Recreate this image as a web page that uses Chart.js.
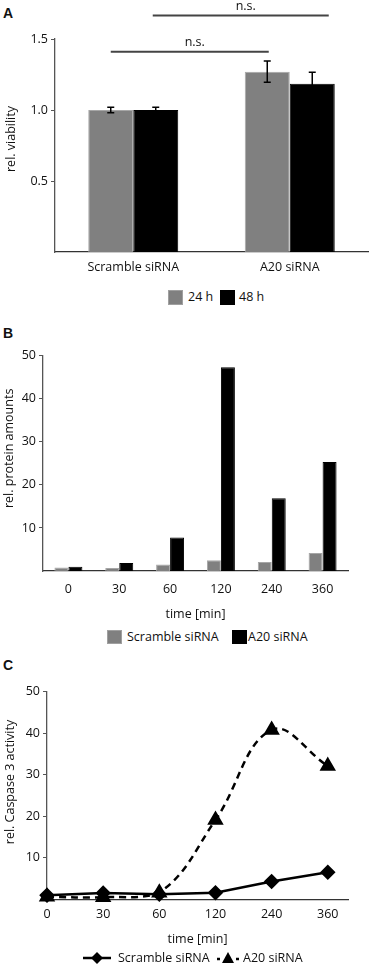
<!DOCTYPE html>
<html><head><meta charset="utf-8">
<script src="https://cdn.jsdelivr.net/npm/chart.js@4.4.1/dist/chart.umd.min.js"></script>
<style>
html,body{margin:0;padding:0;background:#fff;}
body{width:376px;height:968px;position:relative;overflow:hidden;font-family:"Open Sans","Liberation Sans",sans-serif;color:#111;}
.panel{position:absolute;left:0;width:376px;}
.lab{position:absolute;font:bold 14px "Liberation Sans",Arial,sans-serif;color:#111;}
.legend{position:absolute;font-size:12.5px;height:16px;line-height:16px;white-space:nowrap;}
.legend span{position:absolute;top:0;}
.sw{display:inline-block;box-sizing:border-box;}
</style></head><body>

<div class="lab" style="left:3px;top:5px">A</div>
<div class="panel" style="top:0;height:282px"><canvas id="cA"></canvas></div>
<div class="legend" style="left:0;top:289px;width:376px">
  <span class="sw" style="left:168px;top:1px;width:15px;height:15px;background:#808080;border:1px solid #a0a0a0"></span>
  <span style="left:188px">24 h</span>
  <span class="sw" style="left:220px;top:1px;width:15px;height:15px;background:#000"></span>
  <span style="left:239px">48 h</span>
</div>

<div class="lab" style="left:3px;top:325px">B</div>
<div class="panel" style="top:320px;height:300px"><canvas id="cB"></canvas></div>
<div class="legend" style="left:0;top:629px;width:376px">
  <span class="sw" style="left:107px;top:1px;width:15px;height:14px;background:#808080;border:1px solid #a0a0a0"></span>
  <span style="left:127px">Scramble siRNA</span>
  <span class="sw" style="left:232px;top:1px;width:15px;height:14px;background:#000"></span>
  <span style="left:248px">A20 siRNA</span>
</div>

<div class="lab" style="left:3px;top:657px">C</div>
<div class="panel" style="top:650px;height:300px"><canvas id="cC"></canvas></div>
<div class="legend" style="left:0;top:950px;width:376px">
  <span style="left:82px;top:0"><svg width="30" height="16"><line x1="1" y1="8" x2="29" y2="8" stroke="#000" stroke-width="2.5"/><polygon points="15,2 21,8 15,14 9,8" fill="#000"/></svg></span>
  <span style="left:118px">Scramble siRNA</span>
  <span style="left:216px;top:0"><svg width="24" height="16"><line x1="1" y1="9" x2="4" y2="9" stroke="#000" stroke-width="2.5"/><polygon points="12,2 18,13 6,13" fill="#000"/><line x1="20" y1="9" x2="23" y2="9" stroke="#000" stroke-width="2.5"/></svg></span>
  <span style="left:243px">A20 siRNA</span>
</div>

<script>
// ---------- Panel A data ----------
const groupsA = ['Scramble siRNA', 'A20 siRNA'];
const seriesA = ['24 h', '48 h'];
const viability24 = [1.00, 1.27];
const viability48 = [1.00, 1.185];
const error24 = [0.02, 0.075];
const error48 = [0.02, 0.08];
const yTicksA = [0.5, 1.0, 1.5];
// significance brackets: [category, series] endpoints and level on the y scale
const bracketsA = [
  {fromCat: 0, fromSeries: 0, toCat: 1, toSeries: 0, level: 1.41, text: 'n.s.'},
  {fromCat: 0, fromSeries: 1, toCat: 1, toSeries: 1, level: 1.665, text: 'n.s.'}
];

// ---------- Panel B data ----------
const timesB = ['0', '30', '60', '120', '240', '360'];
const seriesB = ['Scramble siRNA', 'A20 siRNA'];
const proteinScramble = [0.8, 0.7, 1.5, 2.5, 2.1, 4.2];
const proteinA20 = [1.0, 1.85, 7.8, 47.3, 16.9, 25.3];

// ---------- Panel C data ----------
const timesC = ['0', '30', '60', '120', '240', '360'];
const seriesC = ['Scramble siRNA', 'A20 siRNA'];
const caspaseScramble = [1.0, 1.5, 1.2, 1.6, 4.3, 6.5];
const caspaseA20 = [0.6, 0.5, 1.6, 19.1, 40.8, 32.1];

const FONT = 'Open Sans';
const FS = 12.5;
const TXT = '#111';
Chart.defaults.font.family = FONT;
Chart.defaults.font.size = FS;
Chart.defaults.color = TXT;
Chart.defaults.animation = false;

const GRAY = '#808080';
const GRAY_EDGE = '#a6a6a6';
const AXIS = '#555';

const errorBarsPlugin = {
  id: 'errorBars',
  afterDatasetsDraw(chart, args, opts) {
    const errs = opts.errors;
    if (!errs) return;
    const ctx = chart.ctx, y = chart.scales.y;
    ctx.save();
    ctx.strokeStyle = opts.color || '#000';
    ctx.lineWidth = opts.width || 1.5;
    chart.data.datasets.forEach((ds, i) => {
      const meta = chart.getDatasetMeta(i);
      meta.data.forEach((el, j) => {
        const v = ds.data[j], e = errs[i][j];
        const top = y.getPixelForValue(v + e), bot = y.getPixelForValue(v - e);
        const c = opts.cap || 3.5;
        ctx.beginPath();
        ctx.moveTo(el.x, top); ctx.lineTo(el.x, bot);
        ctx.moveTo(el.x - c, top); ctx.lineTo(el.x + c, top);
        ctx.moveTo(el.x - c, bot); ctx.lineTo(el.x + c, bot);
        ctx.stroke();
      });
    });
    ctx.restore();
  }
};

const bracketPlugin = {
  id: 'brackets',
  afterDraw(chart, args, opts) {
    const list = opts.items;
    if (!list) return;
    const ctx = chart.ctx, y = chart.scales.y;
    const ext = opts.extend || [];
    ctx.save();
    list.forEach((b, k) => {
      const e = ext[k] || [0, 0];
      const x1 = chart.getDatasetMeta(b.fromSeries).data[b.fromCat].x + e[0];
      const x2 = chart.getDatasetMeta(b.toSeries).data[b.toCat].x + e[1];
      const py = y.getPixelForValue(b.level);
      ctx.strokeStyle = opts.color;
      ctx.lineWidth = opts.width;
      ctx.beginPath(); ctx.moveTo(x1, py); ctx.lineTo(x2, py); ctx.stroke();
      ctx.fillStyle = TXT;
      ctx.font = FS + 'px "' + FONT + '"';
      ctx.textAlign = 'center';
      ctx.textBaseline = 'alphabetic';
      ctx.fillText(b.text, (x1 + x2) / 2 + opts.textShift, py - opts.textGap);
    });
    ctx.restore();
  }
};

// y axis title drawn rotated next to the axis
const yTitlePlugin = {
  id: 'yTitle',
  afterDraw(chart, args, opts) {
    if (!opts.text) return;
    const ctx = chart.ctx, area = chart.chartArea;
    ctx.save();
    ctx.translate(opts.x, (area.top + area.bottom) / 2 + opts.shift);
    ctx.rotate(-Math.PI / 2);
    ctx.fillStyle = TXT;
    ctx.font = FS + 'px "' + FONT + '"';
    ctx.textAlign = 'center';
    ctx.textBaseline = 'middle';
    ctx.fillText(opts.text, 0, 0);
    ctx.restore();
  }
};

function yAxis(max, step, width, fmt) {
  return {
    min: 0, max: max,
    afterFit: s => { s.width = width; },
    border: {display: true, color: AXIS, width: 1.3},
    grid: {display: true, drawOnChartArea: false, drawTicks: true, tickLength: 4, tickColor: AXIS},
    ticks: {stepSize: step, padding: 3, callback: v => (v === 0 ? null : fmt(v))}
  };
}

// ---------- Chart A ----------
new Chart(document.getElementById('cA'), {
  type: 'bar',
  data: {
    labels: groupsA,
    datasets: [
      {label: seriesA[0], data: viability24, backgroundColor: GRAY, borderColor: GRAY_EDGE, borderWidth: 1},
      {label: seriesA[1], data: viability48, backgroundColor: '#000', borderColor: '#000', borderWidth: 1}
    ]
  },
  options: {
    responsive: true, maintainAspectRatio: false,
    layout: {padding: {top: 39, right: 8, left: 0, bottom: 0}},
    datasets: {bar: {categoryPercentage: 0.575, barPercentage: 1.0}},
    scales: {
      x: {
        afterFit: s => { s.height = 30; },
        border: {display: true, color: '#333', width: 1.3},
        grid: {display: false, drawTicks: false},
        ticks: {padding: 8}
      },
      y: Object.assign(yAxis(1.5, 0.5, 55, v => v.toFixed(1)),
        {afterBuildTicks: s => { s.ticks = yTicksA.map(v => ({value: v})); }})
    },
    plugins: {
      legend: {display: false},
      tooltip: {enabled: false},
      errorBars: {errors: [error24, error48], color: '#000', width: 1.5, cap: 3.5},
      brackets: {items: bracketsA, extend: [[0, 1.5], [-3, 16.5]], color: '#444', width: 2, textShift: 5, textGap: 5.5},
      yTitle: {text: 'rel. viability', x: 11.5, shift: -6.5}
    }
  },
  plugins: [errorBarsPlugin, bracketPlugin, yTitlePlugin]
});

// ---------- Chart B ----------
new Chart(document.getElementById('cB'), {
  type: 'bar',
  data: {
    labels: timesB,
    datasets: [
      {label: seriesB[0], data: proteinScramble, backgroundColor: GRAY, borderColor: GRAY_EDGE, borderWidth: 1},
      {label: seriesB[1], data: proteinA20, backgroundColor: '#000', borderColor: '#000', borderWidth: 1}
    ]
  },
  options: {
    responsive: true, maintainAspectRatio: false,
    layout: {padding: {top: 35.7, right: 28, left: 0, bottom: 0}},
    datasets: {bar: {categoryPercentage: 0.55, barPercentage: 1.0}},
    scales: {
      x: {
        afterFit: s => { s.height = 49; },
        border: {display: true, color: '#333', width: 1.3},
        grid: {display: false, drawTicks: false},
        ticks: {padding: 11},
        title: {display: true, text: 'time [min]', padding: {top: 0, bottom: -2}, font: {size: FS}}
      },
      y: yAxis(50, 10, 43, v => String(v))
    },
    plugins: {
      legend: {display: false}, tooltip: {enabled: false},
      yTitle: {text: 'rel. protein amounts', x: 9.5, shift: -15}
    }
  },
  plugins: [yTitlePlugin]
});

// ---------- Chart C ----------
new Chart(document.getElementById('cC'), {
  type: 'line',
  data: {
    datasets: [
      {
        label: seriesC[0],
        data: caspaseScramble.map((v, i) => ({x: i, y: v})),
        borderColor: '#000', backgroundColor: '#000', borderWidth: 2.5,
        pointStyle: 'rectRot', pointRadius: 6, tension: 0, clip: false
      },
      {
        label: seriesC[1],
        data: caspaseA20.map((v, i) => ({x: i, y: v})),
        borderColor: '#000', backgroundColor: '#000', borderWidth: 2.5, borderDash: [7, 5],
        pointStyle: 'triangle', pointRadius: 7, tension: 0.4, clip: false
      }
    ]
  },
  options: {
    responsive: true, maintainAspectRatio: false,
    layout: {padding: {top: 41.7, right: 28, left: 0, bottom: 0}},
    scales: {
      x: {
        type: 'linear', min: 0, max: 5.36,
        afterFit: s => { s.height = 50.7; },
        border: {display: true, color: '#333', width: 1.3},
        grid: {display: false, drawTicks: false},
        ticks: {stepSize: 1, includeBounds: false, padding: 8,
          callback: v => (Number.isInteger(v) && timesC[v] !== undefined ? timesC[v] : null)},
        title: {display: true, text: 'time [min]', padding: {top: 0, bottom: 3}, font: {size: FS}}
      },
      y: yAxis(50, 10, 47, v => String(v))
    },
    plugins: {
      legend: {display: false}, tooltip: {enabled: false},
      yTitle: {text: 'rel. Caspase 3 activity', x: 10, shift: -13.5}
    }
  },
  plugins: [yTitlePlugin]
});
</script>
</body></html>
